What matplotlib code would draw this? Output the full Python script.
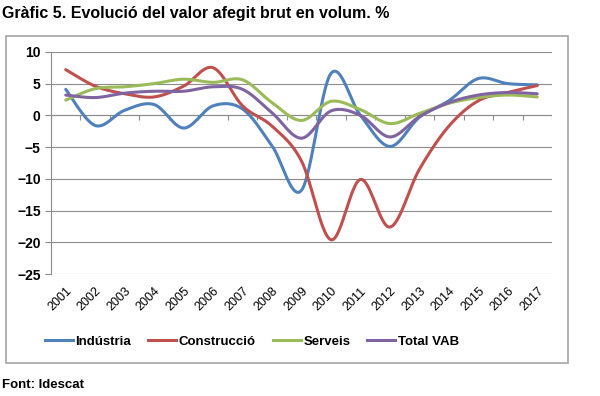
import numpy as np
import matplotlib
matplotlib.use("Agg")
import matplotlib.pyplot as plt
from matplotlib.patches import Rectangle
from matplotlib.lines import Line2D

plt.rcParams['font.family'] = ['Liberation Sans', 'DejaVu Sans']

years = [str(y) for y in range(2001, 2018)]

industria = [4.1, -1.6, 0.8, 1.7, -2.0, 1.5, 1.0, -4.8, -11.8, 6.6, 0.0, -4.9, -0.3, 2.3, 5.8, 5.0, 4.8]
construccio = [7.2, 4.6, 3.4, 2.9, 4.6, 7.5, 1.5, -1.7, -7.2, -19.6, -10.1, -17.6, -8.5, -1.7, 2.3, 3.6, 4.7]
serveis = [2.4, 4.2, 4.5, 5.0, 5.7, 5.2, 5.6, 2.0, -0.8, 2.2, 0.9, -1.3, 0.3, 1.9, 2.8, 3.2, 2.9]
total_vab = [3.2, 2.8, 3.5, 3.8, 3.8, 4.5, 4.1, 0.4, -3.6, 0.7, 0.0, -3.4, -0.2, 2.0, 3.2, 3.6, 3.4]

series = [
    ("Indústria", industria, "#4F81BD"),
    ("Construcció", construccio, "#C0504D"),
    ("Serveis", serveis, "#9BBB59"),
    ("Total VAB", total_vab, "#8064A2"),
]


def smooth(x, y, n=30):
    # Catmull-Rom curve, close to Excel's smoothed line
    x = np.asarray(x, float)
    y = np.asarray(y, float)
    px = np.concatenate([[x[0]], x, [x[-1]]])
    py = np.concatenate([[y[0]], y, [y[-1]]])
    t = np.linspace(0, 1, n, endpoint=False)
    xs, ys = [], []
    for i in range(1, len(px) - 2):
        for p, out in ((px, xs), (py, ys)):
            p0, p1, p2, p3 = p[i - 1], p[i], p[i + 1], p[i + 2]
            out.extend(0.5 * (2 * p1 + (-p0 + p2) * t
                              + (2 * p0 - 5 * p1 + 4 * p2 - p3) * t ** 2
                              + (-p0 + 3 * p1 - 3 * p2 + p3) * t ** 3))
    xs.append(x[-1])
    ys.append(y[-1])
    return np.array(xs), np.array(ys)


fig = plt.figure(figsize=(6, 3.96), dpi=100)
ax = fig.add_axes([0.085, 0.308, 0.835, 0.561])

xpos = np.arange(len(years))
for name, vals, col in series:
    sx, sy = smooth(xpos, vals)
    ax.plot(sx, sy, color=col, lw=2.2, solid_capstyle='round', zorder=3)

ax.set_xlim(-0.5, len(years) - 0.5)
ax.set_ylim(-25, 10)
ax.set_yticks(range(-25, 11, 5))
ax.grid(axis='y', color='#8c8c8c', lw=0.8)
ax.set_axisbelow(True)
for s in ['top', 'right', 'bottom']:
    ax.spines[s].set_visible(False)
ax.spines['left'].set_color('#8c8c8c')

# horizontal axis crosses at zero, with ticks between categories
ax.axhline(0, color='#8c8c8c', lw=0.8, zorder=2)
ax.vlines(np.arange(-0.5, len(years)), -0.7, 0, color='#8c8c8c', lw=0.8, zorder=2)

ax.set_xticks(xpos)
ax.set_xticklabels(years, rotation=45, ha='right', rotation_mode='anchor', fontsize=9)
ax.tick_params(axis='x', length=0, pad=8)
ax.tick_params(axis='y', length=4, color='#8c8c8c', labelsize=10)
for lbl in ax.get_yticklabels():
    lbl.set_fontweight('bold')

handles = [Line2D([], [], color=c, lw=2.2) for _, _, c in series]
fig.legend(handles, [n for n, _, _ in series], loc='center', bbox_to_anchor=(0.42, 0.137),
           ncol=4, frameon=False, handlelength=2.1, handletextpad=0.2, columnspacing=1.3,
           prop={'size': 9.5, 'weight': 'bold'})

fig.patches.append(Rectangle((0.01, 0.083), 0.937, 0.826, transform=fig.transFigure,
                             fill=False, edgecolor='#a6a6a6', lw=1.2))

fig.text(0.004, 0.965, "Gràfic 5. Evolució del valor afegit brut en volum. %",
         fontsize=11.5, fontweight='bold', va='center', ha='left')
fig.text(0.004, 0.028, "Font: Idescat", fontsize=9.5, fontweight='bold', va='center', ha='left')

fig.savefig("out.png", dpi=100, facecolor='white')
